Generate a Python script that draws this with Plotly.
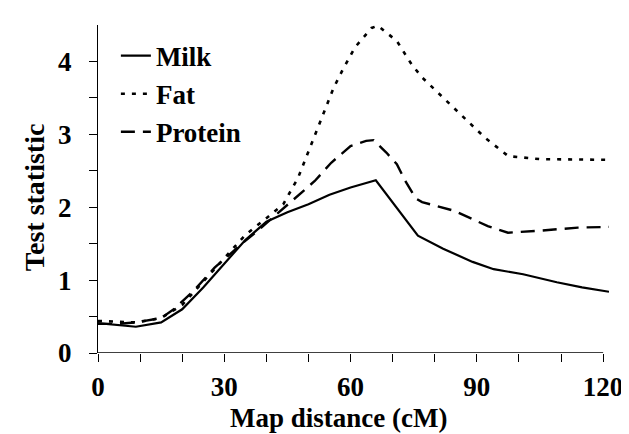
import plotly.graph_objects as go

# ---- data ----
milk_x = [0, 5, 9, 15, 20, 25, 30, 35, 40, 45, 50, 55, 60, 66, 76, 82, 89, 94, 101, 109, 115, 121.4]
milk_y = [0.41, 0.38, 0.36, 0.42, 0.60, 0.90, 1.22, 1.55, 1.80, 1.93, 2.04, 2.17, 2.27, 2.37, 1.61, 1.43, 1.25, 1.15, 1.08, 0.97, 0.90, 0.84]

fat_x = [0, 5, 9, 15, 20, 25, 30, 35, 40, 44, 47.5, 51, 54, 56, 58, 61, 65, 66.5, 71, 74.5, 77, 81.5, 87, 92, 97.5, 105, 121.4]
fat_y = [0.44, 0.43, 0.42, 0.48, 0.66, 0.98, 1.30, 1.62, 1.85, 2.04, 2.40, 2.91, 3.37, 3.64, 3.87, 4.19, 4.46, 4.49, 4.28, 3.96, 3.78, 3.53, 3.23, 2.95, 2.70, 2.66, 2.65]

prot_x = [0, 5, 9, 15, 18, 23, 27.7, 34, 38.8, 42, 46.7, 51.5, 55.4, 60, 63.7, 65.5, 68.5, 71, 73, 75.5, 77, 84.7, 92.6, 97.4, 105.3, 114, 121.4]
prot_y = [0.40, 0.40, 0.42, 0.48, 0.60, 0.87, 1.17, 1.49, 1.72, 1.88, 2.11, 2.36, 2.61, 2.84, 2.91, 2.92, 2.75, 2.59, 2.36, 2.12, 2.07, 1.95, 1.74, 1.65, 1.68, 1.72, 1.73]

x_tickvals = [0, 10, 20, 30, 40, 50, 60, 70, 80, 90, 100, 110, 120]
x_ticktext = ["0", "", "", "30", "", "", "60", "", "", "90", "", "", "120"]
y_tickvals = [0, 0.5, 1, 1.5, 2, 2.5, 3, 3.5, 4]
y_ticktext = ["0", "", "1", "", "2", "", "3", "", "4"]

FONT = "Liberation Serif"
BLACK = "#000000"

fig = go.Figure()
fig.add_trace(go.Scatter(x=milk_x, y=milk_y, mode="lines", name="Milk",
                         line=dict(color=BLACK, width=2.2)))
fig.add_trace(go.Scatter(x=fat_x, y=fat_y, mode="lines", name="Fat",
                         line=dict(color=BLACK, width=2.6, dash="4px,7px")))
fig.add_trace(go.Scatter(x=prot_x, y=prot_y, mode="lines", name="Protein",
                         line=dict(color=BLACK, width=2.4, dash="14px,8px")))

fig.update_layout(
    width=629, height=434,
    margin=dict(l=90, r=28, t=17, b=89),
    paper_bgcolor="white", plot_bgcolor="white",
    font=dict(family=FONT, size=27, color=BLACK),
    showlegend=True,
    legend=dict(x=0.035, y=0.98, xanchor="left", yanchor="top",
                bgcolor="rgba(0,0,0,0)", borderwidth=0,
                font=dict(family=FONT, size=27, color=BLACK, weight="bold"),
                tracegroupgap=0),
    xaxis=dict(range=[0, 121.4], showgrid=False, zeroline=False, showline=False,
               tickmode="array", tickvals=x_tickvals, ticktext=x_ticktext,
               ticks="outside", ticklen=8, tickwidth=1.3, tickcolor=BLACK,
               ticklabelstandoff=2,
               tickfont=dict(family=FONT, size=27, color=BLACK, weight="bold")),
    yaxis=dict(range=[0, 4.5], showgrid=False, zeroline=False, showline=True,
               linecolor=BLACK, linewidth=1.3,
               tickmode="array", tickvals=y_tickvals, ticktext=y_ticktext,
               ticks="outside", ticklen=8, tickwidth=1.3, tickcolor=BLACK,
               ticklabelstandoff=12,
               tickfont=dict(family=FONT, size=27, color=BLACK, weight="bold")),
    shapes=[dict(type="line", xref="x", yref="y", x0=0, x1=120, y0=0, y1=0,
                 line=dict(color=BLACK, width=1.3))],
    annotations=[
        dict(text="Map distance (cM)", xref="paper", yref="paper",
             x=0.4716, y=-0.2713, xanchor="center", yanchor="bottom",
             yshift=8, showarrow=False, borderpad=0,
             font=dict(family=FONT, size=27, color=BLACK, weight="bold")),
        dict(text="Test statistic", xref="paper", yref="paper",
             x=-0.125, y=0.4756, xanchor="center", yanchor="middle",
             textangle=-90, showarrow=False,
             font=dict(family=FONT, size=28, color=BLACK, weight="bold")),
    ],
)

fig.write_html("out.html")
